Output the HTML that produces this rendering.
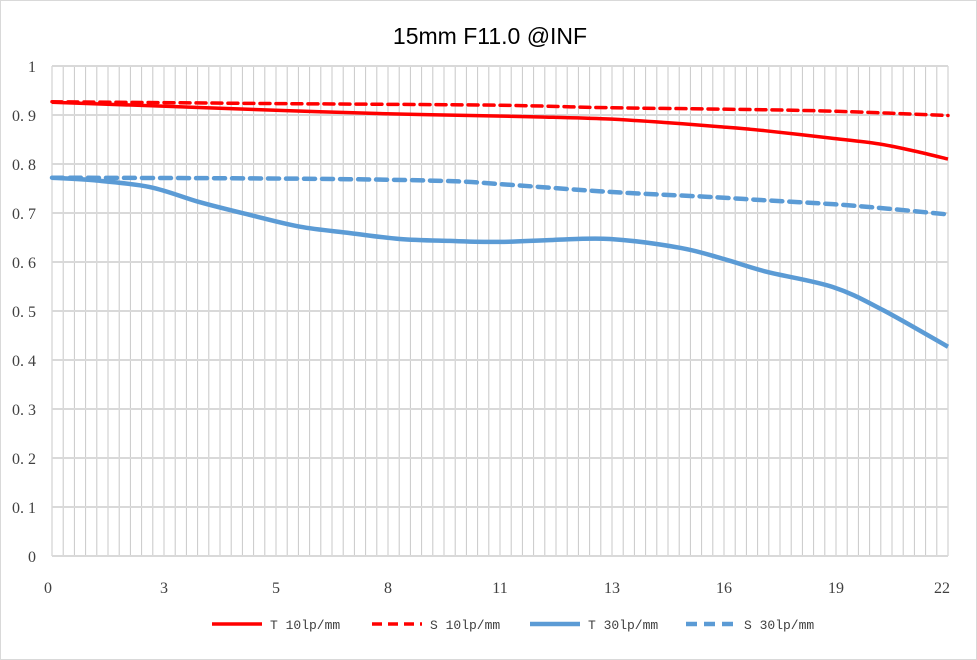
<!DOCTYPE html>
<html><head><meta charset="utf-8"><style>
html,body{margin:0;padding:0;background:#fff;}
svg{display:block;}
</style></head><body>
<svg id="chart" width="977" height="660" viewBox="0 0 977 660" xmlns="http://www.w3.org/2000/svg">
<rect x="0.5" y="0.5" width="976" height="659" fill="#fff" stroke="#d9d9d9"/>
<text x="490" y="44" text-anchor="middle" font-family="Liberation Sans, sans-serif" font-size="23" fill="#000">15mm F11.0 @INF</text>
<g id="grid"></g>
<g id="ylabels"></g>
<g id="xlabels"></g>
<g id="series"></g>
<g id="legend"></g>
</svg>
<script>
const yTicks=[0,0.1,0.2,0.3,0.4,0.5,0.6,0.7,0.8,0.9,1];
const yTickLabels=["0","0. 1","0. 2","0. 3","0. 4","0. 5","0. 6","0. 7","0. 8","0. 9","1"];
const xTickLabels=["0","3","5","8","11","13","16","19","22"];
const categoryCount=81;
const xMax=22;
const t10X=[0,2.7,5.4,8,10.9,12,13.6,15,16.4,17.5,19.1,20.3,21.2,22];
const t10Y=[0.926,0.918,0.910,0.903,0.898,0.896,0.892,0.885,0.876,0.868,0.853,0.841,0.826,0.810];
const s10X=[0,3,6,10.9,13.6,16.4,19.1,22];
const s10Y=[0.927,0.925,0.923,0.920,0.915,0.912,0.908,0.899];
const t30X=[0,1,2.4,3.63,4.86,6.09,7.32,8.54,9.77,11,12.3,13.7,15.42,16.5,17.55,19.17,20.4,22];
const t30Y=[0.772,0.767,0.753,0.722,0.696,0.672,0.659,0.647,0.643,0.641,0.645,0.647,0.629,0.606,0.580,0.549,0.502,0.427];
const s30X=[0,4,7.3,9.8,11,13.7,16.1,17.5,19.17,20.5,22];
const s30Y=[0.772,0.771,0.769,0.765,0.759,0.743,0.733,0.726,0.718,0.709,0.697];
const seriesNames=["T 10lp/mm","S 10lp/mm","T 30lp/mm","S 30lp/mm"];

const NS="http://www.w3.org/2000/svg";
const L=52,R=948,T=66,B=556;
const xs=v=>L+v/xMax*(R-L);
const ys=v=>B-v*(B-T);
function mk(tag,attrs,parent){const e=document.createElementNS(NS,tag);for(const k in attrs)e.setAttribute(k,attrs[k]);parent.appendChild(e);return e;}
const grid=document.getElementById('grid');
for(let i=0;i<categoryCount;i++){
  const x=L+i*(R-L)/(categoryCount-1);
  const ln=mk('line',{x1:x,x2:x,y1:T,y2:B,stroke:'#c8c8c8','stroke-width':1},grid);
  
  
}
const yl=document.getElementById('ylabels');
yTicks.forEach((v,i)=>{
  const ln=mk('line',{x1:L,x2:R,y1:ys(v),y2:ys(v),stroke:'#d9d9d9','stroke-width':2},grid);
  
  
  const t=mk('text',{x:36,y:ys(v)+6,'text-anchor':'end','font-family':'Liberation Serif, serif','font-size':16,fill:'#404040'},yl);
  t.textContent=yTickLabels[i];
  
  
});
const xl=document.getElementById('xlabels');
xTickLabels.forEach((s,i)=>{
  const x=L+i*10*(R-L)/(categoryCount-1);
  const t=mk('text',{x:x-(i==0?4:0)-(i==xTickLabels.length-1?6:0),y:593,'text-anchor':'middle','font-family':'Liberation Serif, serif','font-size':16,fill:'#404040'},xl);
  t.textContent=s;
  
  
});
function smooth(X,Y){
  const p=X.map((x,i)=>[xs(x),ys(Y[i])]);
  let d='M'+p[0][0]+','+p[0][1];
  for(let i=0;i<p.length-1;i++){
    const p0=p[Math.max(0,i-1)],p1=p[i],p2=p[i+1],p3=p[Math.min(p.length-1,i+2)];
    const c1=[p1[0]+(p2[0]-p0[0])/6,p1[1]+(p2[1]-p0[1])/6];
    const c2=[p2[0]-(p3[0]-p1[0])/6,p2[1]-(p3[1]-p1[1])/6];
    d+=' C'+c1+' '+c2+' '+p2;
  }
  return d;
}
const sg=document.getElementById('series');
const defs=[[t10X,t10Y,'#ff0000',null,'series-t-10lpmm'],[s10X,s10Y,'#ff0000','10 6','series-s-10lpmm'],[t30X,t30Y,'#5b9bd5',null,'series-t-30lpmm'],[s30X,s30Y,'#5b9bd5','11 7','series-s-30lpmm']];
defs.forEach(d=>{
  const a={d:smooth(d[0],d[1]),fill:'none',stroke:d[2],'stroke-width':d[2]=='#ff0000'?3.5:4.5,'stroke-linecap':d[3]?'round':'butt'};
  if(d[3])a['stroke-dasharray']=d[3];
  const p=mk('path',a,sg);
  
  
});
const lg=document.getElementById('legend');
const lx=[212,372,530,686];
defs.forEach((d,i)=>{
  const a={x1:lx[i],x2:lx[i]+50,y1:624,y2:624,stroke:d[2],'stroke-width':d[2]=='#ff0000'?3.5:4.5};
  if(d[3])a['stroke-dasharray']=d[3];
  const l=mk('line',a,lg);
  
  
  const t=mk('text',{x:lx[i]+58,y:629,'font-family':'Liberation Mono, monospace','font-size':13,fill:'#404040'},lg);
  t.textContent=seriesNames[i];
  
  
});
</script>
</body></html>
